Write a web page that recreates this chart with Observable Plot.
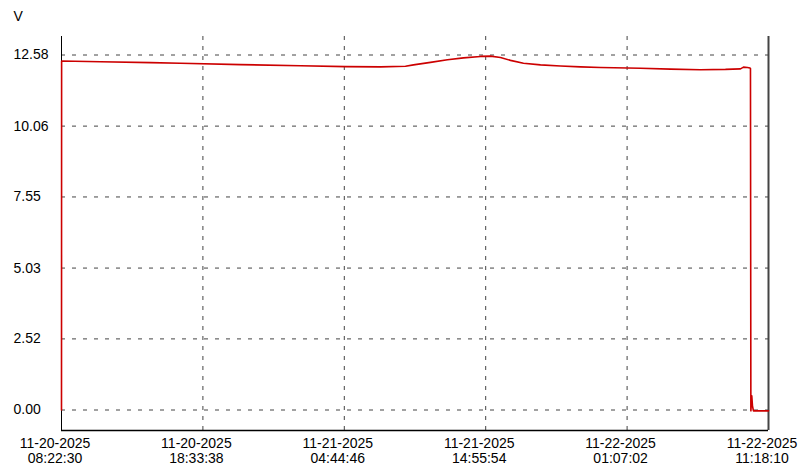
<!DOCTYPE html>
<html><head><meta charset="utf-8">
<script src="https://cdn.jsdelivr.net/npm/d3@7"></script>
<script src="https://cdn.jsdelivr.net/npm/@observablehq/plot@0.6"></script>
<style>body{margin:0;background:#fff}</style>
</head><body><div id="chart"></div>
<script>
const times = [
  "2025-11-20T08:22:30","2025-11-20T08:23:00","2025-11-20T11:11:03","2025-11-20T14:47:10",
  "2025-11-20T16:56:50","2025-11-20T21:16:05","2025-11-21T01:35:24","2025-11-21T04:49:55",
  "2025-11-21T07:21:11","2025-11-21T09:09:14","2025-11-21T09:43:48","2025-11-21T10:57:14",
  "2025-11-21T12:10:44","2025-11-21T13:19:52","2025-11-21T14:33:22","2025-11-21T15:16:34",
  "2025-11-21T15:59:49","2025-11-21T16:43:01","2025-11-21T17:39:11","2025-11-21T18:52:41",
  "2025-11-21T20:19:05","2025-11-21T21:45:32","2025-11-21T23:12:00","2025-11-22T01:08:42",
  "2025-11-22T02:04:52","2025-11-22T04:14:31","2025-11-22T06:24:11","2025-11-22T08:12:11",
  "2025-11-22T09:17:02","2025-11-22T09:30:00","2025-11-22T09:47:17","2025-11-22T09:58:05",
  "2025-11-22T10:00:14","2025-11-22T10:01:59","2025-11-22T10:05:53","2025-11-22T10:08:53",
  "2025-11-22T10:13:12","2025-11-22T11:18:10"
];
const volts = [
  0.00, 12.37, 12.34, 12.31,
  12.29, 12.24, 12.20, 12.17,
  12.16, 12.18, 12.23, 12.32,
  12.41, 12.48, 12.53, 12.54,
  12.49, 12.39, 12.29, 12.23,
  12.19, 12.16, 12.14, 12.12,
  12.11, 12.08, 12.06, 12.07,
  12.09, 12.15, 12.14, 12.12,
  12.10, -0.03, 0.50, 0.15,
  -0.03, -0.03
];
const yTicks = [0, 2.52, 5.03, 7.55, 10.06, 12.58];
const xTickTimes = ["2025-11-20T08:22:30","2025-11-20T18:33:38","2025-11-21T04:44:46",
  "2025-11-21T14:55:54","2025-11-22T01:07:02","2025-11-22T11:18:10"];
const xTickLabels = ["11-20-2025\n08:22:30","11-20-2025\n18:33:38","11-21-2025\n04:44:46",
  "11-21-2025\n14:55:54","11-22-2025\n01:07:02","11-22-2025\n11:18:10"];
const yLabel = "V";

const parse = s => new Date(s + "Z");
const data = times.map((t, i) => ({t: parse(t), v: volts[i]}));
const xt = xTickTimes.map(parse);
const xTicks = xt.map((d, i) => ({t: d, label: xTickLabels[i]}));
const yMin = -0.726, yMax = 13.236;

const chart = Plot.plot({
  width: 807, height: 476,
  marginLeft: 61, marginRight: 39, marginTop: 36, marginBottom: 46,
  style: {fontFamily: "'Liberation Sans', Arial, sans-serif", fontSize: "14px", background: "#fff"},
  x: {type: "utc", domain: [xt[0], xt[xt.length - 1]], axis: null},
  y: {domain: [yMin, yMax], axis: null},
  marks: [
    Plot.gridY(yTicks, {stroke: "#444", strokeOpacity: 1, strokeDasharray: "4,7"}),
    Plot.gridX(xt.slice(1, -1), {stroke: "#444", strokeOpacity: 1, strokeDasharray: "4,6"}),
    Plot.ruleX([xt[0]], {stroke: "#000", strokeWidth: 1}),
    Plot.ruleX([xt[xt.length - 1]], {stroke: "#444", strokeWidth: 2}),
    Plot.ruleY([yMin], {stroke: "#000", strokeWidth: 1.5}),
    Plot.line(data, {x: "t", y: "v", stroke: "#cc0000", strokeWidth: 1.6}),
    Plot.text(yTicks, {y: d => d, text: d => d.toFixed(2), frameAnchor: "left", textAnchor: "start", dx: -48, fontSize: 14}),
    Plot.text(xTicks, {x: "t", text: "label", frameAnchor: "bottom", lineAnchor: "middle", dy: 20, dx: -6.5, lineHeight: 1.05, fontSize: 14}),
    Plot.text([yLabel], {frameAnchor: "top-left", textAnchor: "start", lineAnchor: "middle", dx: -48, dy: -20, fontSize: 14})
  ]
});
document.getElementById("chart").appendChild(chart);
</script>
</body></html>
